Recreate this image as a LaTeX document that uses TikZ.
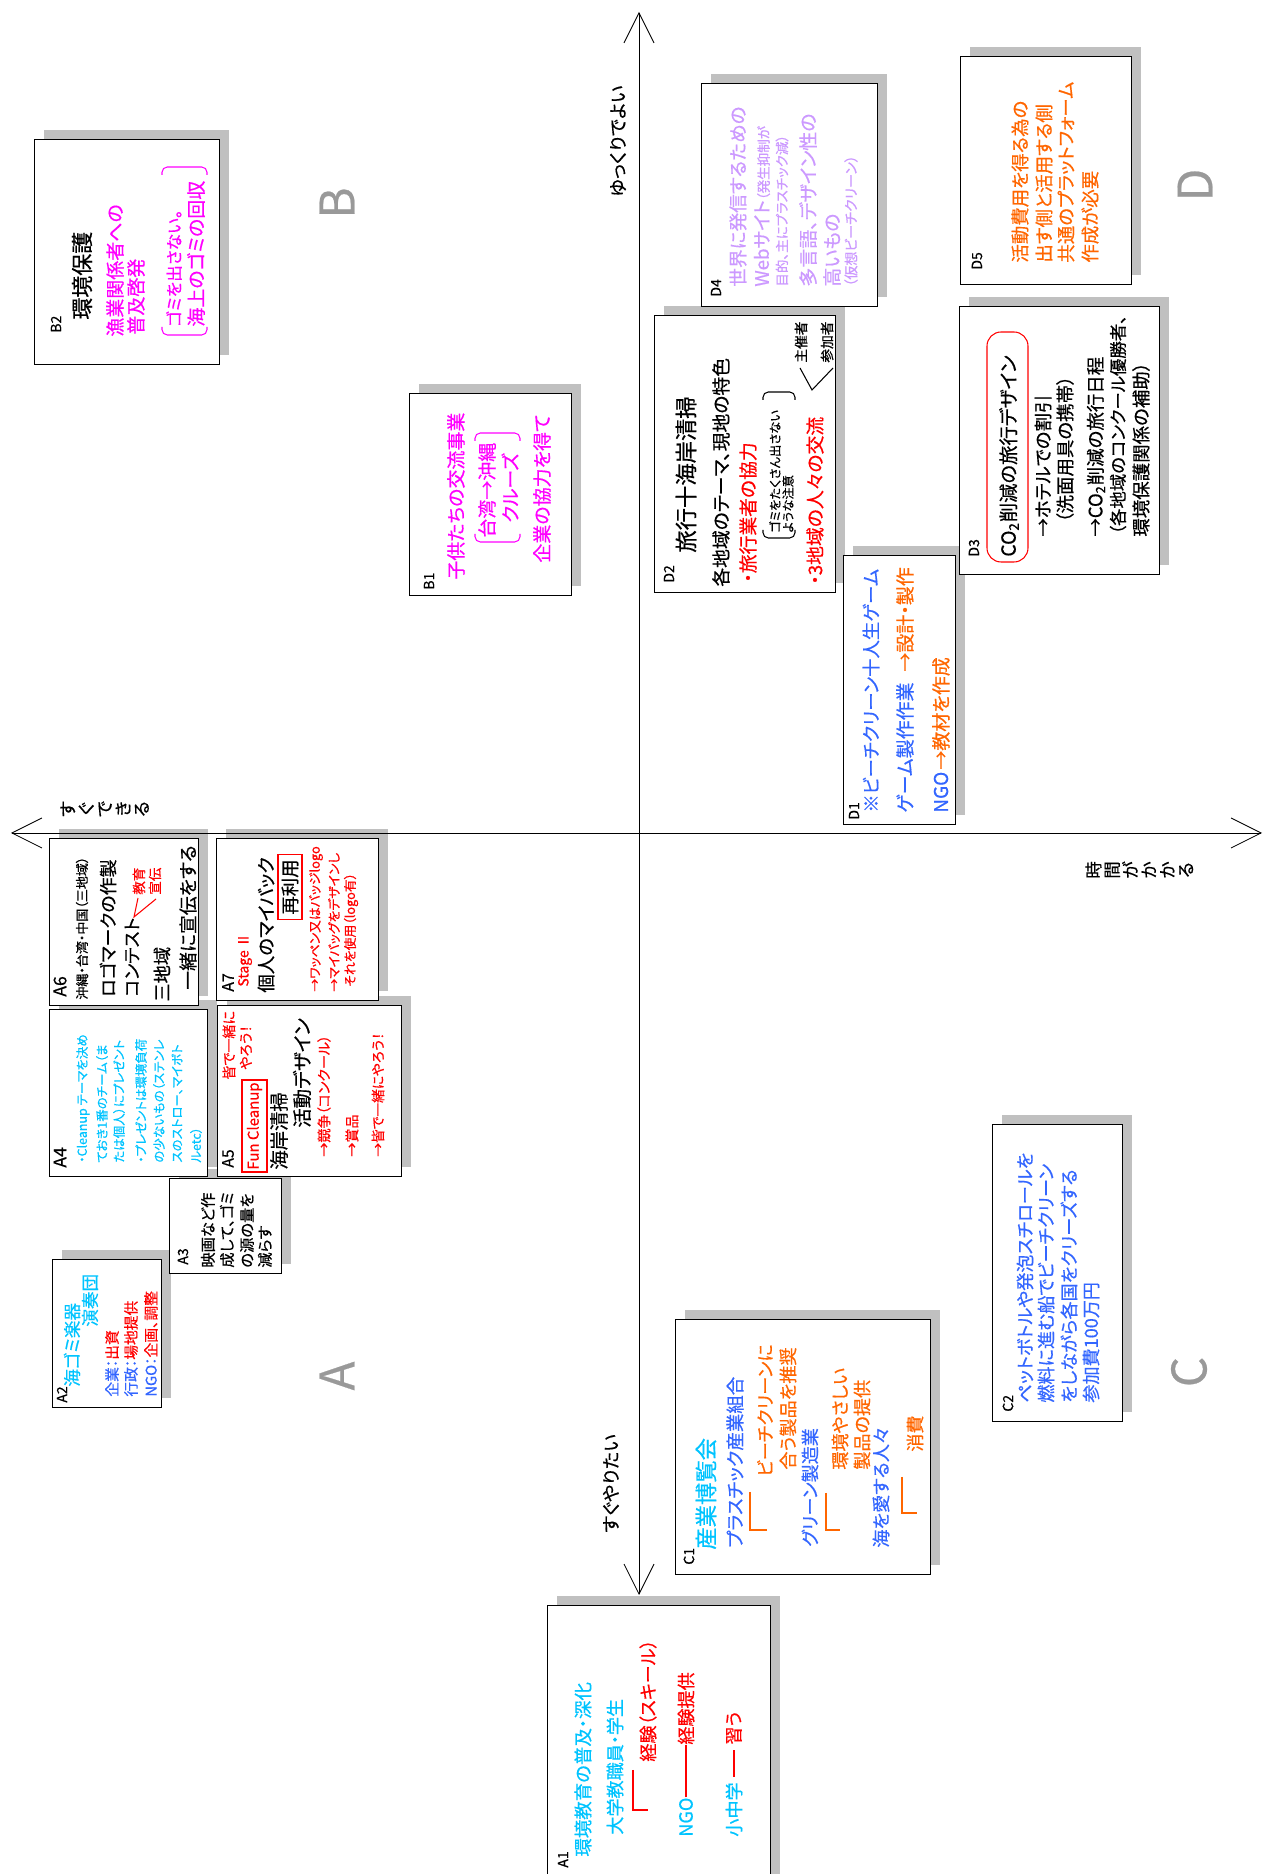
\documentclass[tikz,border=0pt]{standalone}
\usepackage{fontspec}
\setmainfont{Noto Sans CJK JP}[RawFeature={+palt}, FakeBold=0.5]
\usetikzlibrary{arrows.meta}
\definecolor{shadowgray}{HTML}{C0C0C0}
\definecolor{lettergray}{HTML}{999999}
\definecolor{mag}{HTML}{FF00FF}
\definecolor{sky}{HTML}{00C4FF}
\definecolor{blu}{HTML}{3366FF}
\definecolor{org}{HTML}{FF6600}
\definecolor{lav}{HTML}{CC99FF}
\begin{document}
\begin{tikzpicture}[x=0.02cm, y=-0.02cm, rotate=90, transform shape,
    box/.style={rectangle, draw=black, line width=0.7pt, fill=white, anchor=north west, inner sep=0pt},
    txt/.style={anchor=west, inner sep=0pt, font=\fontsize{#1}{#1}\selectfont},
    lbl/.style={txt=8},
    letter/.style={lettergray, inner sep=0pt, font=\fontsize{27}{27}\selectfont},
    vtxt/.style={anchor=north, inner sep=0pt, align=center, font=\fontsize{10}{10.5}\selectfont},
    axis/.style={line width=0.5pt, {Straight Barb[length=6mm,width=6mm]}-{Straight Barb[length=6mm,width=6mm]}},
    brk/.style={line width=0.6pt, rounded corners=3pt},
    redbox/.style={draw=red, line width=0.6pt, inner sep=0pt}]
  \useasboundingbox (0,0) rectangle (1874,1264);
  \clip (0,0) rectangle (1874,1264);

  % shadows
  \foreach \xa/\ya/\xb/\yb in {1509/34/1734/219, 1278/409/1480/571, 1567/701/1790/877,
      1589/960/1817/1131, 1281/654/1558/835, 1299/959/1567/1159, 1049/843/1318/955,
      868/49/1035/198, 873/216/1035/378, 697/49/864/207, 697/217/868/401,
      600/169/695/281, 466/52/614/161, 299/675/554/930, 452/992/749/1122, -16/547/268/770}
    \fill[shadowgray] (\xa+10,\ya+10) rectangle (\xb+10,\yb+10);

  % boxes
  \node[box, minimum width=4.5cm, minimum height=3.7cm] (B2) at (1509,34) {};
  \node[box, minimum width=4.04cm, minimum height=3.24cm] (B1) at (1278,409) {};
  \node[box, minimum width=4.46cm, minimum height=3.52cm] (D4) at (1567,701) {};
  \node[box, minimum width=4.56cm, minimum height=3.42cm] (D5) at (1589,960) {};
  \node[box, minimum width=5.54cm, minimum height=3.62cm] (D2) at (1281,654) {};
  \node[box, minimum width=5.36cm, minimum height=4cm] (D3) at (1299,959) {};
  \node[box, minimum width=5.38cm, minimum height=2.24cm] (D1) at (1049,843) {};
  \node[box, minimum width=3.34cm, minimum height=2.98cm] (A6) at (868,49) {};
  \node[box, minimum width=3.24cm, minimum height=3.24cm] (A7) at (873,216) {};
  \node[box, minimum width=3.34cm, minimum height=3.16cm] (A4) at (697,49) {};
  \node[box, minimum width=3.42cm, minimum height=3.68cm] (A5) at (697,217) {};
  \node[box, minimum width=1.9cm, minimum height=2.24cm] (A3) at (600,169) {};
  \node[box, minimum width=2.96cm, minimum height=2.18cm] (A2) at (466,52) {};
  \node[box, minimum width=5.1cm, minimum height=5.1cm] (C1) at (299,675) {};
  \node[box, minimum width=5.94cm, minimum height=2.6cm] (C2) at (452,992) {};
  \node[box, minimum width=5.68cm, minimum height=4.46cm] (A1) at (-16,547) {};

  % B2
  \node[lbl] (b2l) at (1541,56) {B2};
  \node[txt=12.5] (b2a) at (1554,82) {環境保護};
  \node[txt=10.8, mag] (b2b) at (1537,115) {漁業関係者への};
  \node[txt=10.8, mag] (b2c) at (1539,136) {普及啓発};
  \draw[brk, mag] (1547,162) -- (1539,162) -- (1539,207) -- (1547,207);
  \draw[brk, mag] (1699,162) -- (1707,162) -- (1707,207) -- (1699,207);
  \node[txt=9.5, mag] (b2d) at (1547,174) {ゴミを出さない。};
  \node[txt=10.8, mag] (b2e) at (1547,196) {海上のゴミの回収};

  % B1
  \node[lbl] (b1l) at (1284,429) {B1};
  \node[txt=10.8, mag] (b1a) at (1294,456) {子供たちの交流事業};
  \draw[brk, mag] (1340,475) -- (1332,475) -- (1332,520) -- (1340,520);
  \draw[brk, mag] (1433,475) -- (1441,475) -- (1441,520) -- (1433,520);
  \node[txt=10.8, mag] (b1b) at (1336,487) {台湾→沖縄};
  \node[txt=10.8, mag, anchor=center] (b1c) at (1386,510) {クルーズ};
  \node[txt=10.8, mag] (b1d) at (1311,542) {企業の協力を得て};

  % D4
  \node[lbl] (d4l) at (1577,716) {D4};
  \node[txt=10.6, lav] (d4a) at (1587,738) {世界に発信するための};
  \node[txt=10.6, lav] (d4b) at (1587,762) {Webサイト{\fontsize{7.7}{7.7}\selectfont （発生抑制が}};
  \node[txt=7.7, lav] (d4c) at (1587,782) {目的、主にプラスチック減）};
  \node[txt=10.8, lav] (d4d) at (1587,808) {多言語、デザイン性の};
  \node[txt=10.8, lav] (d4e) at (1587,832) {高いもの};
  \node[txt=8, lav] (d4f) at (1587,851) {（仮想ビーチクリーン）};

  % D5
  \node[lbl] (d5l) at (1604,977) {D5};
  \node[txt=10.5, org] (d5a) at (1611,1020) {活動費用を得る為の};
  \node[txt=10.5, org] (d5b) at (1611,1044) {出す側と活用する側};
  \node[txt=10.5, org] (d5c) at (1611,1066) {共通のプラットフォーム};
  \node[txt=10.5, org] (d5d) at (1611,1090) {作成が必要};

  % D2
  \node[lbl] (d2l) at (1291,669) {D2};
  \node[txt=12.7] (d2a) at (1321,686) {旅行十海岸清掃};
  \node[txt=10.7] (d2b) at (1287,721) {各地域のテーマ、現地の特色};
  \node[txt=10.7, red] (d2c) at (1291,748) {・旅行業者の協力};
  \draw[brk] (1344,763) -- (1336,763) -- (1336,795) -- (1344,795);
  \draw[brk] (1474,763) -- (1482,763) -- (1482,795) -- (1474,795);
  \node[txt=7] (d2d) at (1341,775) {ゴミをたくさん出さない};
  \node[txt=7] (d2e) at (1341,788) {ような注意};
  \node[txt=10.7, red] (d2f) at (1289,815) {・3地域の人々の交流};
  \draw[line width=0.6pt] (1506,800) -- (1484,812) -- (1506,833);
  \node[txt=7.8] (d2g) at (1511,801) {主催者};
  \node[txt=7.8] (d2h) at (1511,827) {参加者};

  % D3
  \node[lbl] (d3l) at (1317,974) {D3};
  \draw[red, line width=0.6pt, rounded corners=8pt] (1312,987) rectangle (1542,1028);
  \node[txt=11] (d3a) at (1317,1009) {CO\textsubscript{2}削減の旅行デザイン};
  \node[txt=10.5] (d3b) at (1337,1043) {→ホテルでの割引};
  \node[txt=10.5] (d3c) at (1351,1065) {（洗面用具の携帯）};
  \node[txt=10.5] (d3d) at (1337,1096) {→CO\textsubscript{2}削減の旅行日程};
  \node[txt=9.9] (d3e) at (1339,1118) {（各地域のコンクール優勝者、};
  \node[txt=10.5] (d3f) at (1337,1141) {環境保護関係の補助）};

  % D1
  \node[lbl] (d1l) at (1054,854) {D1};
  \node[txt=10.5, blu] (d1a) at (1061,871) {※ビーチクリーン十人生ゲーム};
  \node[txt=10.8, blu] (d1b) at (1061,905) {ゲーム製作作業};
  \node[txt=10.8, org] (d1c) at (1202,905) {→設計・製作};
  \node[txt=10.8, blu] (d1d) at (1061,941) {NGO};
  \node[txt=10.8, org] (d1e) at (1104,941) {→教材を作成};

  % A6
  \node[txt=10] (a6l) at (877,60) {A6};
  \node[txt=7.4] (a6a) at (874,82) {沖縄・台湾・中国（三地域）};
  \node[txt=10.2] (a6b) at (877,108) {ロゴマークの作製};
  \node[txt=10.2] (a6c) at (877,132) {コンテスト};
  \draw[red, line width=0.6pt] (976,138) -- (957,134) -- (975,156);
  \node[txt=7.7, red] (a6d) at (979,139) {教育};
  \node[txt=7.7, red] (a6e) at (979,155) {宣伝};
  \node[txt=10.4] (a6f) at (872,162) {三地域};
  \node[txt=10.7] (a6g) at (884,188) {一緒に宣伝をする};

  % A7
  \node[txt=9] (a7l) at (882,228) {A7};
  \node[txt=8, red] (a7a) at (887,245) {Stage Ⅱ};
  \node[txt=10.5] (a7b) at (881,266) {個人のマイバック};
  \node[redbox, font=\fontsize{10.5}{10.5}\selectfont, minimum width=1.3cm, minimum height=0.48cm] (a7c) at (987,290) {再利用};
  \node[txt=7.3, red] (a7d) at (882,316) {→ワッペン又はバッジlogo};
  \node[txt=7.3, red] (a7e) at (882,334) {→マイバッグをデザインし};
  \node[txt=7.3, red] (a7f) at (887,351) {それを使用（logo有）};

  % A4
  \node[txt=10] (a4l) at (706,60) {A4};
  \node[txt=7.1, sky] (a4a) at (711,83) {・Cleanup テーマを決め};
  \node[txt=7.1, sky] (a4b) at (711,102) {ておき1番のチーム（ま};
  \node[txt=7.1, sky] (a4c) at (711,119) {たは個人）にプレゼント};
  \node[txt=7.1, sky] (a4d) at (711,141) {・プレゼントは環境負荷};
  \node[txt=7.1, sky] (a4e) at (711,159) {の少ないもの（ステンレ};
  \node[txt=7.1, sky] (a4f) at (711,177) {スのストロー、マイボト};
  \node[txt=7.1, sky] (a4g) at (711,196) {ルetc）};

  % A5
  \node[txt=9] (a5l) at (706,228) {A5};
  \node[txt=8, red] (a5a) at (794,229) {皆で一緒に};
  \node[txt=8, red] (a5b) at (804,246) {やろう！};
  \node[redbox, red, font=\fontsize{8.5}{8.5}\selectfont, minimum width=1.84cm, minimum height=0.5cm] (a5c) at (748,254.5) {Fun Cleanup};
  \node[txt=11] (a5d) at (704,279) {海岸清掃};
  \node[txt=11] (a5e) at (746,302) {活動デザイン};
  \node[txt=8, red] (a5f) at (717,324) {→競争（コンクール）};
  \node[txt=8, red] (a5g) at (717,352) {→賞品};
  \node[txt=7.8, red] (a5h) at (717,378) {→皆で一緒にやろう！};

  % A3
  \node[lbl] (a3l) at (609,183) {A3};
  \node[txt=8.7] (a3a) at (606,208) {映画など作};
  \node[txt=8.7] (a3b) at (606,227) {成して、ゴミ};
  \node[txt=8.7] (a3c) at (606,247) {の源の量を};
  \node[txt=8.7] (a3d) at (606,265) {減らす};

  % A2
  \node[lbl] (a2l) at (471,62) {A2};
  \node[txt=10, sky] (a2a) at (487,72) {海ゴミ楽器};
  \node[txt=10, sky] (a2b) at (547,90) {演奏団};
  \node[txt=8.4, blu] (a2c) at (477,112) {企業：{\color{red}出資}};
  \node[txt=8.4, blu] (a2d) at (477,131) {行政：{\color{red}場地提供}};
  \node[txt=8.4, blu] (a2e) at (477,151) {NGO：{\color{red}企画、調整}};

  % C1
  \node[lbl] (c1l) at (309,689) {C1};
  \node[txt=12.7, sky] (c1a) at (324,706) {産業博覧会};
  \node[txt=10.5, blu] (c1b) at (326,735) {プラスチック産業組合};
  \draw[org, line width=0.8pt] (382,750) -- (344,750) -- (344,767);
  \node[txt=10.3, org] (c1c) at (397,765) {ビーチクリーンに};
  \node[txt=10.3, org] (c1d) at (404,788) {合う製品を推奨};
  \node[txt=10.3, blu] (c1e) at (327,810) {グリーン製造業};
  \draw[org, line width=0.8pt] (381,826) -- (344,826) -- (344,840);
  \node[txt=10.3, org] (c1f) at (404,840) {環境やさしい};
  \node[txt=10.3, org] (c1g) at (404,862) {製品の提供};
  \node[txt=10.3, blu] (c1h) at (326,881) {海を愛する人々};
  \draw[org, line width=0.8pt] (397,902) -- (361,902) -- (361,917);
  \node[txt=10.3, org] (c1i) at (422,915) {消費};

  % C2
  \node[lbl] (c2l) at (462,1008) {C2};
  \node[txt=10.3, blu] (c2a) at (471,1025) {ペットボトルや発泡スチロールを};
  \node[txt=10.3, blu] (c2b) at (471,1046) {燃料に進む船でビーチクリーン};
  \node[txt=10.3, blu] (c2c) at (471,1069) {をしながら各国をクリーズする};
  \node[txt=10.3, blu] (c2d) at (471,1091) {参加費100万円};

  % A1
  \node[lbl] (a1l) at (6,563) {A1};
  \node[txt=10.5, sky] (a1a) at (17,583) {環境教育の普及・深化};
  \node[txt=10.3, sky] (a1b) at (39,615) {大学教職員・学生};
  \draw[red, line width=0.8pt] (104,633) -- (64,633) -- (64,648);
  \node[txt=10.3, red] (a1c) at (112,648) {経験（スキール）};
  \node[txt=10.3, sky] (a1d) at (37,686) {NGO};
  \node[txt=10.3, red] (a1e) at (129,686) {経験提供};
  \draw[red, line width=0.8pt] (a1d) -- (a1e);
  \node[txt=10.3, sky] (a1f) at (37,734) {小中学};
  \node[txt=10.3, red] (a1g) at (129,734) {習う};
  \draw[red, line width=0.8pt] ([xshift=3pt]a1f.east) -- ([xshift=-3pt]a1g.west);

  % quadrant letters
  \node[letter] (qA) at (498,337) {A};
  \node[letter] (qB) at (1671,337) {B};
  \node[letter] (qC) at (502,1189) {C};
  \node[letter] (qD) at (1689,1195) {D};

  % axes
  \coordinate (vt) at (1862,639);
  \coordinate (vb) at (279,639);
  \coordinate (hl) at (1041,11);
  \coordinate (hr) at (1041,1262);
  \draw[axis] (vb) -- (vt);
  \draw[axis] (hl) -- (hr);
  \node[txt=10.5] (slow) at (1677,618) {ゆっくりでよい};
  \node[txt=10.5] (soon) at (341,611) {すぐやりたい};
  \node[vtxt] (easy) at (1065,60) {す\\ぐ\\で\\き\\る};
  \node[vtxt] (long) at (1004,1085) {時\\間\\が\\か\\か\\る};
\end{tikzpicture}
\end{document}
